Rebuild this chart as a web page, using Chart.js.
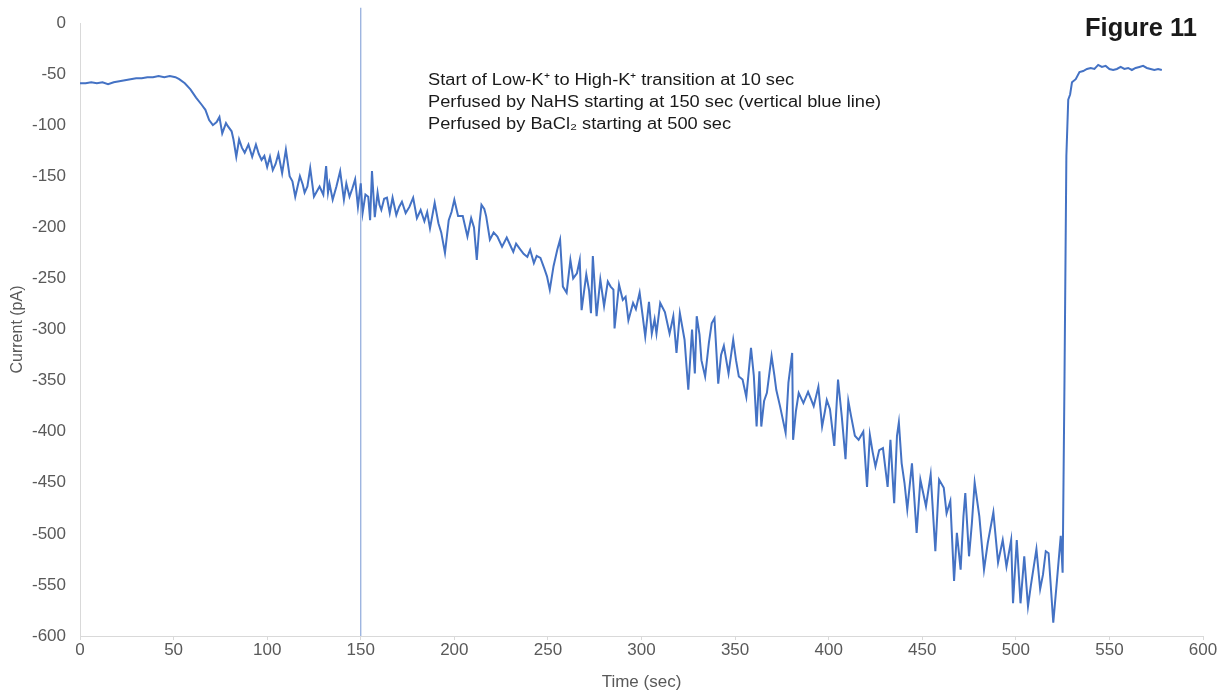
<!DOCTYPE html>
<html>
<head>
<meta charset="utf-8">
<script src="https://cdn.jsdelivr.net/npm/chart.js@4.4.1/dist/chart.umd.min.js"></script>
<style>
  html, body { margin: 0; padding: 0; background: #ffffff; }
  #wrap { position: relative; width: 1231px; height: 693px; }
</style>
</head>
<body>
<div id="wrap"><canvas id="chart" width="1231" height="693"></canvas></div>
<script>
// current trace (time in sec, current in pA)
const times = [
  0, 3, 6, 9, 12, 15, 18, 21, 24, 27, 30, 33, 36, 39, 42, 45, 48, 51, 53, 56,
  59, 62, 65, 67, 69, 71, 73, 74.5, 76, 78, 79, 81, 82, 83.5, 85, 86.5, 88, 90, 92, 94,
  95.5, 97, 98.5, 100, 101.5, 103, 104.5, 106, 108, 110, 112, 113.5, 115, 117.5, 119, 120, 121.5, 123, 125, 126.5,
  128, 130, 131.5, 132.5, 133.3, 135, 137, 139, 141, 142.3, 144, 145.5, 147, 148.5, 150, 151, 152.5, 154, 155, 156,
  157.5, 159, 160, 161, 162.5, 164, 165.5, 167, 169, 170.5, 172, 174, 176, 178, 180, 182, 184, 185.5, 187, 189.5,
  191.5, 193, 195, 197, 198.5, 200, 202, 204.5, 207, 209, 210.5, 212, 213.5, 214.5, 216, 217, 219, 221, 223, 225.5,
  228, 230, 231.5, 233, 235, 237, 239, 240.5, 242.5, 244, 246, 248, 249.5, 251, 253, 255, 256.5, 258, 260, 262,
  263.5, 265.5, 267, 268, 270.5, 272, 273, 274, 276, 278, 280, 282, 283.5, 285, 285.6, 288, 290, 291.5, 293, 295.5,
  297, 299, 300.5, 302, 304, 305.5, 307, 308, 310, 312.5, 315, 317, 318.7, 320.5, 323, 325, 327, 328.5, 329.5, 331,
  332, 334, 336, 337.5, 339, 341, 342.5, 344, 346.5, 349, 350.5, 352, 354, 356, 358.5, 360, 361.5, 363, 364, 365.5,
  367, 369.5, 371, 372, 374, 377, 378.5, 380.5, 381, 382.5, 384, 386.5, 389, 390.5, 392, 394.5, 396.5, 398, 399, 400.7,
  403, 405, 407, 409, 410.5, 412, 414, 416, 418.5, 420.5, 422, 423.5, 425, 427, 429, 431.5, 433, 435, 436.5, 437.5,
  439, 440.5, 442, 444.5, 447, 449, 450.5, 452, 454.5, 457, 459, 461.5, 463, 465, 467, 468.5, 470.5, 472, 473, 475,
  476.5, 478, 480.5, 483, 485, 488, 490.5, 493, 495, 497.5, 498.5, 500.5, 502.5, 504.5, 506.5, 508, 511, 513, 514.5, 516,
  517.5, 520, 522, 524, 525, 526, 527, 528, 529, 530, 532, 534, 536, 538, 540, 542, 544, 546, 548, 550,
  552, 554, 556, 558, 560, 562, 564, 566, 568, 570, 572, 574, 576, 578
];
const currents = [
  -59, -59, -58, -59, -58, -60, -58, -57, -56, -55, -54, -54, -53, -53, -52, -53, -52, -53, -55, -59,
  -65, -73, -80, -85, -95, -100, -97, -92, -108, -98, -101, -106, -114, -131, -114, -122, -127, -119, -131, -119,
  -128, -134, -130, -141, -131, -144, -138, -128, -147, -124, -150, -155, -170, -150, -158, -166, -160, -142, -170, -165,
  -160, -168, -140, -166, -157, -173, -160, -145, -173, -157, -170, -162, -153, -180, -157, -186, -168, -170, -193, -145,
  -190, -166, -178, -183, -172, -171, -186, -171, -188, -180, -175, -186, -180, -171, -191, -183, -194, -185, -201, -176,
  -196, -205, -225, -193, -185, -173, -189, -189, -209, -191, -200, -232, -195, -178, -182, -189, -212, -205, -209, -219,
  -210, -218, -224, -216, -221, -226, -229, -222, -235, -228, -230, -240, -248, -261, -238, -222, -212, -258, -264, -232,
  -250, -245, -232, -281, -246, -262, -284, -228, -287, -251, -277, -253, -258, -261, -299, -256, -271, -268, -291, -274,
  -280, -264, -285, -307, -273, -304, -290, -304, -274, -283, -304, -287, -323, -284, -310, -359, -300, -343, -287, -305,
  -330, -346, -313, -294, -289, -353, -325, -316, -343, -310, -330, -346, -349, -366, -318, -345, -395, -341, -395, -370,
  -362, -326, -345, -359, -375, -401, -352, -323, -408, -380, -362, -372, -361, -368, -375, -356, -395, -380, -369, -378,
  -414, -349, -385, -427, -370, -385, -404, -408, -400, -454, -403, -420, -434, -418, -416, -454, -408, -470, -404, -391,
  -431, -450, -476, -431, -499, -447, -460, -473, -442, -517, -447, -455, -480, -468, -546, -499, -535, -483, -460, -522,
  -490, -450, -483, -535, -509, -479, -528, -506, -532, -506, -568, -506, -568, -522, -571, -551, -515, -554, -540, -517,
  -519, -587, -545, -502, -538, -349, -130, -75, -70, -58, -55, -48, -47, -45, -44, -45, -41, -43, -42, -45,
  -46, -45, -43, -45, -44, -46, -44, -43, -42, -44, -45, -46, -45, -46
];

// vertical marker: NaHS perfusion at 150 sec
const markerTimes = [150, 150];
const markerCurrents = [-600, 15];

const xTicks = [0, 50, 100, 150, 200, 250, 300, 350, 400, 450, 500, 550, 600];
const yTicks = [0, -50, -100, -150, -200, -250, -300, -350, -400, -450, -500, -550, -600];

const notes = [
  "Start of Low-K\u207A to High-K\u207A transition at 10 sec",
  "Perfused by NaHS starting at 150 sec (vertical blue line)",
  "Perfused by BaCl\u2082 starting at 500 sec"
];

const FONT = "'Liberation Sans', Arial, sans-serif";

// the original text is a bit wider than Arial, so stretch it sideways
function wideText(ctx, text, x, y, sx) {
  ctx.save();
  ctx.translate(x, y);
  ctx.scale(sx, 1);
  ctx.fillText(text, 0, 0);
  ctx.restore();
}

const textPlugin = {
  id: "figText",
  afterDraw(chart) {
    const ctx = chart.ctx;
    ctx.save();
    ctx.fillStyle = "#1a1a1a";
    ctx.font = "bold 25px " + FONT;
    ctx.textAlign = "left";
    ctx.textBaseline = "middle";
    wideText(ctx, "Figure 11", 1085, 29, 1.02);

    ctx.font = "16px " + FONT;
    notes.forEach((line, i) => {
      wideText(ctx, line, 428, 81 + i * 22, 1.14);
    });
    ctx.restore();
  }
};

new Chart(document.getElementById("chart"), {
  type: "scatter",
  data: {
    datasets: [
      {
        label: "Current",
        data: times.map((t, i) => ({ x: t, y: currents[i] })),
        showLine: true,
        borderColor: "#4472C4",
        borderWidth: 2,
        pointRadius: 0,
        tension: 0,
      },
      {
        label: "NaHS",
        data: markerTimes.map((t, i) => ({ x: t, y: markerCurrents[i] })),
        showLine: true,
        borderColor: "#8EA9DB",
        borderWidth: 1.2,
        pointRadius: 0,
        clip: false,
      },
    ],
  },
  options: {
    responsive: false,
    animation: false,
    layout: { padding: { top: 23, right: 28, left: 0, bottom: 0 } },
    plugins: {
      legend: { display: false },
      tooltip: { enabled: false },
    },
    scales: {
      x: {
        type: "linear",
        min: 0,
        max: 600,
        afterBuildTicks: (scale) => { scale.ticks = xTicks.map(v => ({ value: v })); },
        afterFit: (scale) => { scale.height = 57; },
        ticks: { color: "#595959", font: { family: FONT, size: 17 }, padding: 0, maxRotation: 0 },
        grid: { display: true, drawOnChartArea: false, drawTicks: true, tickLength: 4, color: "#d9d9d9" },
        border: { display: true, color: "#d9d9d9", width: 1 },
        title: {
          display: true,
          text: "Time (sec)",
          color: "#595959",
          font: { family: FONT, size: 17 },
          padding: { top: 2, bottom: 0 },
        },
      },
      y: {
        type: "linear",
        min: -600,
        max: 0,
        afterBuildTicks: (scale) => { scale.ticks = yTicks.map(v => ({ value: v })); },
        afterFit: (scale) => { scale.width = 80; },
        ticks: { color: "#595959", font: { family: FONT, size: 17 }, padding: 6 },
        grid: { display: false },
        border: { display: true, color: "#d9d9d9", width: 1 },
        title: {
          display: true,
          text: "Current (pA)",
          color: "#595959",
          font: { family: FONT, size: 16 },
          padding: { top: 8, bottom: 0 },
        },
      },
    },
  },
  plugins: [textPlugin],
});
</script>
</body>
</html>
